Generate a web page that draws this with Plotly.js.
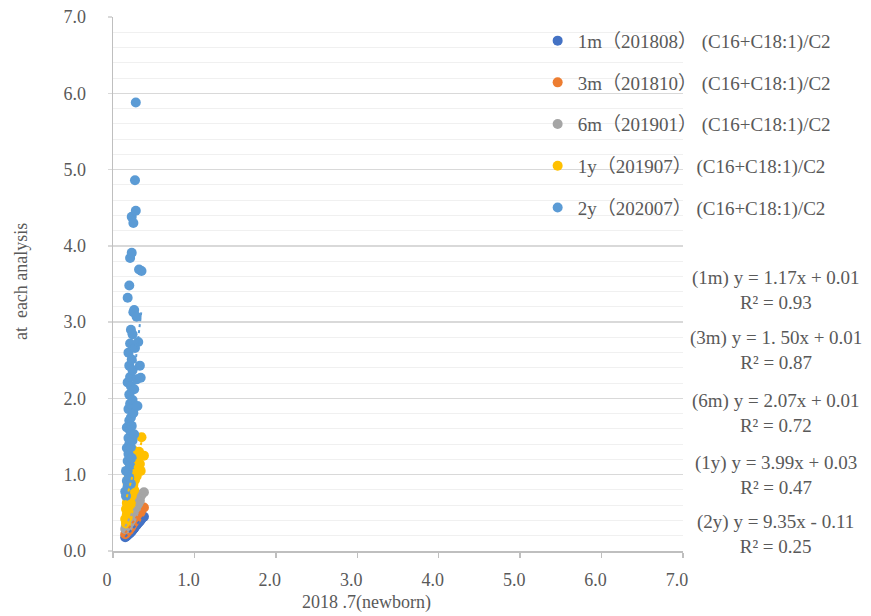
<!DOCTYPE html>
<html>
<head>
<meta charset="utf-8">
<script src="https://cdn.plot.ly/plotly-3.0.1.min.js"></script>
<style>
  html, body { margin: 0; padding: 0; background: #ffffff; }
  #chart { width: 871px; height: 616px; }
</style>
</head>
<body>
<div id="chart"></div>
<script>
// (C16+C18:1)/C2 ratio at birth, one entry per child
const newbornRatio = [
  0.15, 0.16, 0.16, 0.17, 0.17, 0.17, 0.18, 0.18, 0.18, 0.18,
  0.19, 0.19, 0.19, 0.19, 0.19, 0.20, 0.20, 0.20, 0.20, 0.20,
  0.20, 0.21, 0.21, 0.21, 0.21, 0.21, 0.21, 0.22, 0.22, 0.22,
  0.22, 0.22, 0.23, 0.23, 0.23, 0.23, 0.23, 0.24, 0.24, 0.24,
  0.24, 0.25, 0.25, 0.25, 0.26, 0.26, 0.26, 0.27, 0.27, 0.28,
  0.28, 0.29, 0.29, 0.30, 0.31, 0.32, 0.33, 0.34, 0.35, 0.38
];

// same ratio for each child at each follow-up analysis
const ratio1m = [
  0.18, 0.20, 0.19, 0.21, 0.20, 0.22, 0.22, 0.23, 0.21, 0.22,
  0.23, 0.22, 0.24, 0.23, 0.23, 0.24, 0.23, 0.25, 0.24, 0.24,
  0.23, 0.26, 0.25, 0.26, 0.25, 0.24, 0.26, 0.27, 0.26, 0.27,
  0.26, 0.25, 0.28, 0.27, 0.28, 0.27, 0.26, 0.29, 0.28, 0.29,
  0.28, 0.30, 0.29, 0.30, 0.31, 0.30, 0.32, 0.33, 0.32, 0.34,
  0.33, 0.35, 0.34, 0.36, 0.37, 0.38, 0.39, 0.41, 0.42, 0.45
];
const ratio3m = [
  0.22, 0.26, 0.23, 0.27, 0.25, 0.29, 0.27, 0.30, 0.26, 0.29,
  0.31, 0.27, 0.32, 0.29, 0.30, 0.32, 0.29, 0.34, 0.30, 0.31,
  0.28, 0.33, 0.31, 0.35, 0.32, 0.30, 0.34, 0.34, 0.32, 0.36,
  0.33, 0.31, 0.36, 0.34, 0.38, 0.35, 0.33, 0.37, 0.35, 0.39,
  0.36, 0.39, 0.37, 0.41, 0.40, 0.38, 0.42, 0.41, 0.43, 0.44,
  0.41, 0.45, 0.43, 0.46, 0.47, 0.49, 0.50, 0.51, 0.54, 0.57
];
const ratio6m = [
  0.29, 0.36, 0.30, 0.38, 0.33, 0.40, 0.35, 0.42, 0.31, 0.39,
  0.43, 0.34, 0.46, 0.38, 0.41, 0.45, 0.37, 0.49, 0.40, 0.43,
  0.36, 0.47, 0.41, 0.52, 0.44, 0.39, 0.50, 0.46, 0.42, 0.54,
  0.48, 0.40, 0.51, 0.45, 0.56, 0.48, 0.43, 0.53, 0.47, 0.58,
  0.50, 0.55, 0.49, 0.60, 0.52, 0.58, 0.62, 0.56, 0.63, 0.61,
  0.55, 0.64, 0.59, 0.66, 0.62, 0.69, 0.66, 0.72, 0.74, 0.77
];
const ratio1y = [
  0.42, 0.55, 0.36, 0.63, 0.48, 0.71, 0.58, 0.88, 0.44, 0.66,
  0.79, 0.52, 0.95, 0.70, 0.61, 0.84, 1.02, 0.57, 0.76, 0.92,
  0.68, 0.81, 1.10, 0.64, 0.90, 0.74, 1.18, 0.86, 0.98, 0.62,
  1.05, 0.78, 0.94, 1.24, 0.72, 1.08, 0.83, 1.00, 0.76, 1.15,
  0.91, 1.32, 0.87, 1.04, 0.95, 1.20, 0.80, 1.12, 0.93, 1.27,
  1.06, 1.16, 0.98, 1.22, 1.09, 1.30, 1.14, 1.05, 1.49, 1.25
];
const ratio2y = [
  0.78, 1.05, 0.72, 1.35, 0.92, 1.62, 3.32, 1.18, 0.85, 2.21,
  1.48, 1.02, 1.86, 2.60, 1.27, 3.48, 1.71, 0.96, 2.05, 1.40,
  2.43, 3.84, 1.58, 1.12, 2.28, 1.93, 2.72, 2.90, 1.36, 1.75,
  2.16, 0.88, 4.38, 3.91, 1.64, 2.51, 1.22, 1.98, 2.84, 1.45,
  2.37, 4.30, 3.13, 1.81, 3.16, 2.12, 1.53, 4.86, 2.66, 5.88,
  4.46, 3.07, 2.25, 1.90, 2.74, 3.69, 2.43, 2.27, 3.67, null
];

const seriesValues = [ratio1m, ratio3m, ratio6m, ratio1y, ratio2y];
const seriesNames = [
  "1m（201808） (C16+C18:1)/C2",
  "3m（201810） (C16+C18:1)/C2",
  "6m（201901） (C16+C18:1)/C2",
  "1y（201907） (C16+C18:1)/C2",
  "2y（202007） (C16+C18:1)/C2"
];
const seriesColors = ["#4472C4", "#ED7D31", "#A5A5A5", "#FFC000", "#5B9BD5"];

// linear fits for each analysis
const trendSlope = [1.17, 1.50, 2.07, 3.99, 9.35];
const trendIntercept = [0.01, 0.01, 0.01, 0.03, -0.11];
const equationText = [
  "(1m) y = 1.17x + 0.01",
  "(3m) y = 1. 50x + 0.01",
  "(6m) y = 2.07x + 0.01",
  "(1y) y = 3.99x + 0.03",
  "(2y) y = 9.35x - 0.11"
];
const rSquaredText = ["0.93", "0.87", "0.72", "0.47", "0.25"];
const equationY = [0.489, 0.377, 0.258, 0.142, 0.031];

const xTickVals = [0, 1, 2, 3, 4, 5, 6, 7];
const xTickText = ["0", "1.0", "2.0", "3.0", "4.0", "5.0", "6.0", "7.0"];

const serif = "'Times New Roman', 'Liberation Serif', 'Noto Sans CJK SC', serif";
const textGrey = "#595959";

const traces = [];
seriesValues.forEach((vals, i) => {
  const xs = [], ys = [];
  vals.forEach((v, k) => { if (v !== null) { xs.push(newbornRatio[k]); ys.push(v); } });
  traces.push({
    type: "scatter", mode: "markers",
    x: xs, y: ys,
    name: seriesNames[i],
    legendgroup: "g" + i,
    marker: { color: seriesColors[i], size: 10 },
    hoverinfo: "x+y"
  });
});
// dotted fit lines on top of the markers
seriesValues.forEach((vals, i) => {
  const xs = newbornRatio.filter((x, k) => vals[k] !== null);
  const x0 = Math.min(...xs), x1 = Math.max(...xs);
  traces.push({
    type: "scatter", mode: "lines",
    x: [x0, x1],
    y: [trendSlope[i] * x0 + trendIntercept[i], trendSlope[i] * x1 + trendIntercept[i]],
    line: { color: seriesColors[i], width: 2, dash: "dot" },
    legendgroup: "g" + i,
    showlegend: false, hoverinfo: "skip"
  });
});

const annotations = equationText.map((t, i) => ({
  xref: "paper", yref: "paper",
  x: 1.163, y: equationY[i],
  xanchor: "center", yanchor: "middle",
  text: t + "<br>R² = " + rSquaredText[i],
  showarrow: false,
  font: { family: serif, size: 19, color: textGrey },
  align: "center"
}));
annotations.push({
  xref: "paper", yref: "paper", x: 0.444, y: -0.097,
  xanchor: "center", yanchor: "middle",
  text: "2018 .7(newborn)", showarrow: false,
  font: { family: serif, size: 18, color: textGrey }
});
annotations.push({
  xref: "paper", yref: "paper", x: -0.161, y: 0.504,
  xanchor: "center", yanchor: "middle", textangle: -90,
  text: "at  each analysis", showarrow: false,
  font: { family: serif, size: 18, color: textGrey }
});

const layout = {
  width: 871, height: 616,
  margin: { l: 113, r: 188, t: 17, b: 65, pad: 0 },
  paper_bgcolor: "#ffffff", plot_bgcolor: "#ffffff",
  showlegend: true,
  legend: {
    x: 0.745, y: 0.991, xanchor: "left", yanchor: "top",
    font: { family: serif, size: 19, color: textGrey },
    bgcolor: "rgba(0,0,0,0)", borderwidth: 0,
    tracegroupgap: 14, traceorder: "grouped"
  },
  xaxis: {
    range: [0, 7], tickvals: xTickVals, ticktext: xTickText,
    showgrid: false, zeroline: false,
    showline: true, linecolor: "#BFBFBF", linewidth: 1.5,
    ticks: "outside", ticklen: 5, tickcolor: "#BFBFBF", tickwidth: 1.5,
    ticklabelstandoff: 7, ticklabelshift: -6,
    tickfont: { family: serif, size: 18, color: textGrey }
  },
  yaxis: {
    range: [0, 7], dtick: 1, tick0: 0, tickformat: ".1f",
    showgrid: true, gridcolor: "#D9D9D9", gridwidth: 1.5,
    minor: { dtick: 0.2, showgrid: true, gridcolor: "#F0F0F0", gridwidth: 1 },
    zeroline: false,
    showline: true, linecolor: "#BFBFBF", linewidth: 1.5,
    ticks: "outside", ticklen: 4, tickcolor: "#D9D9D9", tickwidth: 1.5,
    ticklabelstandoff: 18,
    tickfont: { family: serif, size: 18, color: textGrey }
  },
  annotations: annotations
};

Plotly.newPlot("chart", traces, layout, { staticPlot: true, displayModeBar: false });
</script>
</body>
</html>
